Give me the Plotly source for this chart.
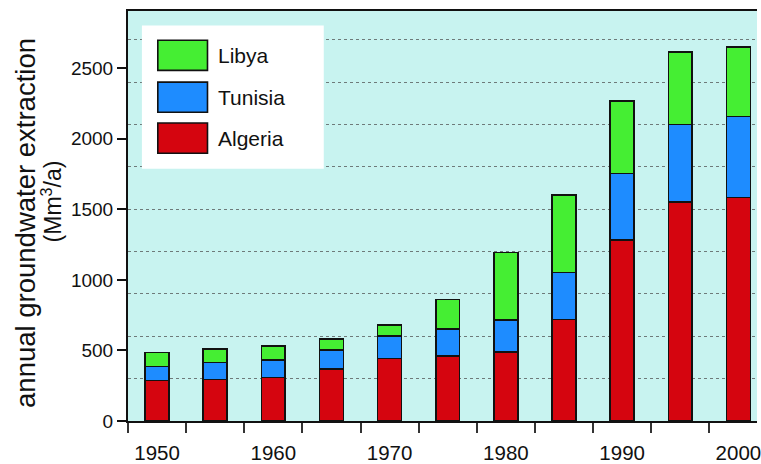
import plotly.graph_objects as go

years = [1950, 1955, 1960, 1965, 1970, 1975, 1980, 1985, 1990, 1995, 2000]
algeria = [286, 293, 307, 369, 444, 462, 488, 720, 1281, 1553, 1585]
tunisia = [101, 122, 126, 133, 159, 191, 228, 332, 472, 548, 572]
libya = [97, 94, 97, 81, 78, 209, 477, 548, 516, 514, 493]

series_names = ["Algeria", "Tunisia", "Libya"]
series_colors = {"Algeria": "#D5050F", "Tunisia": "#1E8CFF", "Libya": "#45EE33"}
y_tick_vals = [0, 500, 1000, 1500, 2000, 2500]
x_tick_vals = [1950, 1960, 1970, 1980, 1990, 2000]
x_tick_text = ["1950", "1960", "1970", "1980", "1990", "2000"]

FONT = "Liberation Sans, Arial, sans-serif"
W, H = 761, 464
ML, MR, MT, MB = 128, 0, 11, 32
PW, PH = W - ML - MR, H - MT - MB
Y_MAX = 2905

fig = go.Figure()
for name, vals in zip(series_names, [algeria, tunisia, libya]):
    fig.add_trace(go.Bar(
        x=years, y=vals, name=name, width=2.05,
        marker=dict(color=series_colors[name], line=dict(color="#111111", width=1.6)),
        showlegend=False,
    ))
# empty helper trace so the overlaid grid axis is created
fig.add_trace(go.Scatter(x=[years[0]], y=[None], yaxis="y2", mode="markers",
                         showlegend=False, hoverinfo="skip"))

fig.update_layout(
    width=W, height=H,
    margin=dict(l=ML, r=MR, t=MT, b=MB, pad=0),
    barmode="stack",
    paper_bgcolor="white",
    plot_bgcolor="#C8F3F0",
    font=dict(family=FONT, color="#111111"),
    xaxis=dict(
        range=[1947.5, 2001.6],
        tickvals=x_tick_vals, ticktext=x_tick_text,
        ticks="outside", ticklen=0,
        ticklabelstandoff=12,
        ticklabeloverflow="allow",
        tickfont=dict(size=20.5, family=FONT, color="#111111"),
        minor=dict(tick0=1947.5, dtick=5, ticks="outside", ticklen=10,
                   tickwidth=1.5, tickcolor="#333333", showgrid=False),
        showline=True, linecolor="#111111", linewidth=2, mirror=True,
        showgrid=False, zeroline=False,
    ),
    yaxis=dict(
        range=[0, Y_MAX],
        tickvals=y_tick_vals,
        ticks="outside", ticklen=9, tickwidth=1.5, tickcolor="#111111",
        tickfont=dict(size=19, family=FONT, color="#111111"),
        showgrid=False, zeroline=False,
        showline=True, linecolor="#111111", linewidth=2,
    ),
    yaxis2=dict(
        overlaying="y", anchor="x", side="left",
        range=[0, Y_MAX],
        dtick=300, tick0=0,
        showticklabels=False, ticks="",
        showgrid=True, gridcolor="#6E7A7A", gridwidth=1, griddash="dot",
        showline=False, zeroline=False,
    ),
)

def px_x(p):
    return (p - ML) / PW

def px_y(p):
    return (H - MB - p) / PH

shapes = [dict(type="rect", xref="paper", yref="paper",
               x0=px_x(142), x1=px_x(325), y0=px_y(173), y1=px_y(26),
               fillcolor="white", line=dict(width=0), layer="above")]
annotations = []
legend_rows = [("Libya", 41, 72), ("Tunisia", 84, 115), ("Algeria", 126, 157)]
for name, top, bot in legend_rows:
    shapes.append(dict(type="rect", xref="paper", yref="paper",
                       x0=px_x(158), x1=px_x(208), y0=px_y(bot), y1=px_y(top),
                       fillcolor=series_colors[name],
                       line=dict(color="#111111", width=1.6), layer="above"))
    annotations.append(dict(text=name, xref="paper", yref="paper",
                            x=px_x(217), y=px_y((top + bot) / 2),
                            xanchor="left", yanchor="middle", showarrow=False,
                            font=dict(size=21, family=FONT, color="#111111")))

annotations.append(dict(text="annual groundwater extraction", textangle=-90,
                        xref="paper", yref="paper", x=px_x(25), y=px_y(229),
                        xanchor="center", yanchor="middle", showarrow=False,
                        font=dict(size=27.5, family=FONT, color="#111111")))
annotations.append(dict(text="(Mm<sup>3</sup>/a)", textangle=-90,
                        xref="paper", yref="paper", x=px_x(51), y=px_y(206),
                        xanchor="center", yanchor="middle", showarrow=False,
                        font=dict(size=23, family=FONT, color="#111111")))

fig.update_layout(shapes=shapes, annotations=annotations)
fig.write_html(
    "out.html",
    config={"displayModeBar": False},
    post_script="document.body.style.margin='0';document.body.style.overflow='hidden';",
)
